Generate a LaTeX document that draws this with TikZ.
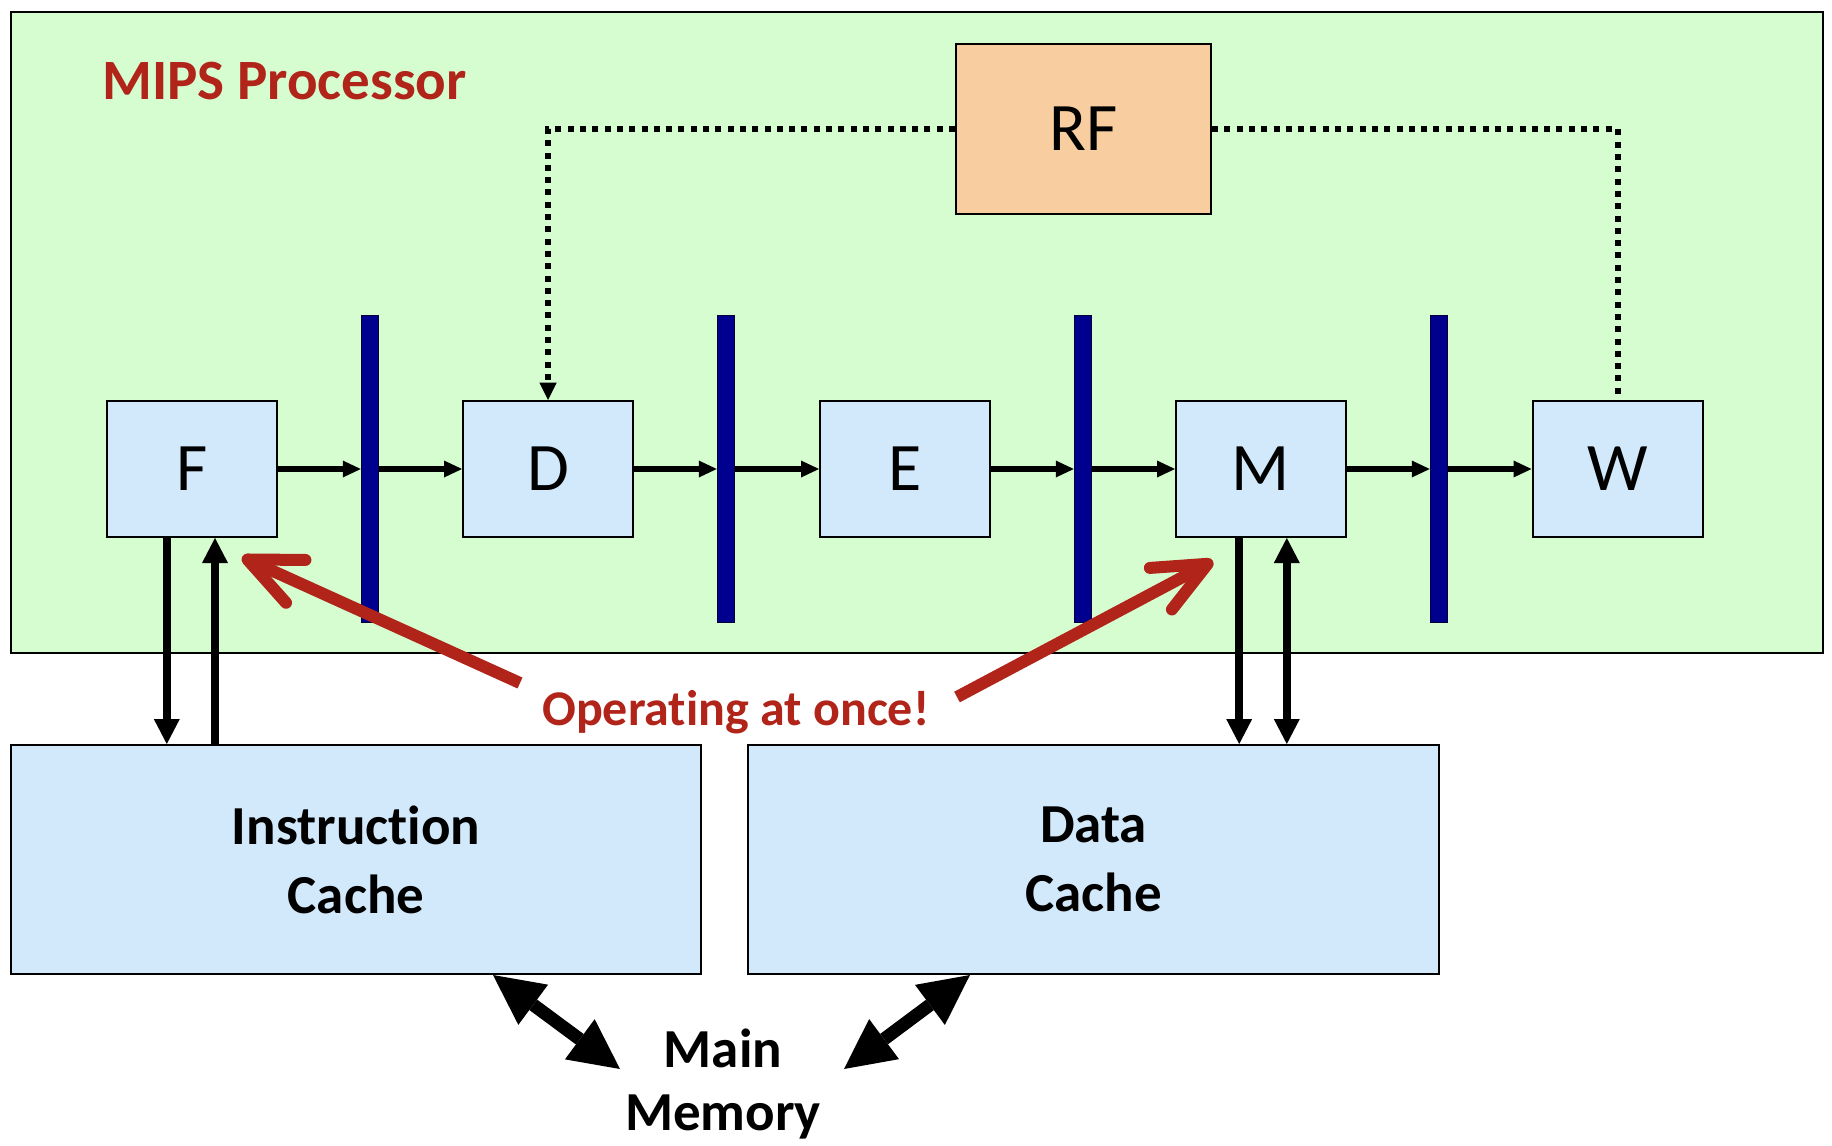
\documentclass[tikz,border=0pt]{standalone}
\usepackage{fontspec}
\setmainfont{Carlito}[Ligatures=NoCommon]
\usetikzlibrary{arrows.meta}
\definecolor{bggreen}{HTML}{D6FDD0}
\definecolor{boxblue}{HTML}{D2E9FB}
\definecolor{peach}{HTML}{F8CDA0}
\definecolor{darkred}{HTML}{B0241A}
\definecolor{navybar}{HTML}{00008E}
\begin{document}
\begin{tikzpicture}[x=1pt,y=-1pt,
  stagebox/.style={draw=black, line width=2pt, fill=boxblue, minimum width=170pt, minimum height=136pt, inner sep=0pt, font=\fontsize{68}{80}\selectfont},
  rfbox/.style={draw=black, line width=2pt, fill=peach, minimum width=255pt, minimum height=170pt, inner sep=0pt, font=\fontsize{68}{80}\selectfont},
  pipereg/.style={draw=black!60!navybar, line width=1pt, fill=navybar, minimum width=17.5pt, minimum height=307pt, inner sep=0pt},
  cachebox/.style={draw=black, line width=2pt, fill=boxblue, minimum height=229pt, inner sep=0pt, align=center, font=\bfseries\fontsize{55}{69}\selectfont},
  flow/.style={line width=5.3pt, -{Triangle[length=18pt,width=17pt,line width=0pt]}},
  bus/.style={line width=8.3pt},
  dotline/.style={line width=6pt, dash pattern=on 6pt off 6.3pt},
  redarrow/.style={draw=darkred, line width=12pt, -{Straight Barb[length=53pt,width=47pt,round]}},
  memarrow/.style={line width=13pt, {Triangle[length=50pt,width=50pt,line width=0pt]}-{Triangle[length=50pt,width=50pt,line width=0pt]}}
]
\useasboundingbox (0,0) rectangle (1832,1146);
\fill[white] (0,0) rectangle (1832,1146);
% processor region
\draw[fill=bggreen, line width=2pt] (11,12) rectangle (1823,652.5);
\node[anchor=base west, inner sep=0pt, text=darkred, font=\bfseries\fontsize{57}{68}\selectfont] (title) at (102,99) {MIPS Processor};
% register file
\node[rfbox] (RF) at (1083.5,129) {RF};
% stages
\node[stagebox] (F) at (192,469) {F};
\node[stagebox] (D) at (548,469) {D};
\node[stagebox] (E) at (905,469) {E};
\node[stagebox] (M) at (1261,469) {M};
\node[stagebox] (W) at (1617.5,469) {W};
% pipeline registers
\node[pipereg] (R1) at (370,469) {};
\node[pipereg] (R2) at (726,469) {};
\node[pipereg] (R3) at (1083,469) {};
\node[pipereg] (R4) at (1439,469) {};
% flow arrows
\draw[flow] (F.east) -- (R1.west);
\draw[flow] (R1.east) -- (D.west);
\draw[flow] (D.east) -- (R2.west);
\draw[flow] (R2.east) -- (E.west);
\draw[flow] (E.east) -- (R3.west);
\draw[flow] (R3.east) -- (M.west);
\draw[flow] (M.east) -- (R4.west);
\draw[flow] (R4.east) -- (W.west);
% RF dotted connections
\draw[dotline, -{Triangle[length=17.5pt,width=17.5pt,line width=0pt]}] (RF.west) -- (D.north |- RF.west) -- (D.north);
\draw[dotline] (RF.east) -- (W.north |- RF.east) -- (W.north);
% caches
\node[cachebox, minimum width=690pt] (IC) at (356,859.5) {Instruction\\Cache};
\node[cachebox, minimum width=691pt] (DC) at (1093.5,859.5) {Data\\Cache};
% F <-> instruction cache
\coordinate (f1) at ([xshift=-25.2pt]F.south);
\coordinate (f2) at ([xshift=23pt]F.south);
\draw[bus, -{Triangle[length=25pt,width=26pt,line width=0pt]}] (f1) -- (f1 |- IC.north);
\draw[bus, -{Triangle[length=25pt,width=26pt,line width=0pt]}] (f2 |- IC.north) -- (f2);
% M <-> data cache
\coordinate (m1) at ([xshift=-21.8pt]M.south);
\coordinate (m2) at ([xshift=25.8pt]M.south);
\draw[bus, -{Triangle[length=25pt,width=26pt,line width=0pt]}] (m1) -- (m1 |- DC.north);
\draw[bus, {Triangle[length=25pt,width=26pt,line width=0pt]}-{Triangle[length=25pt,width=26pt,line width=0pt]}] (m2) -- (m2 |- DC.north);
% operating at once
\node[anchor=base west, inner sep=0pt, text=darkred, font=\bfseries\fontsize{50}{60}\selectfont] (op) at (542,725) {Operating at once!};
\coordinate (r1tail) at (520,683);
\coordinate (r1tip) at (242,557);
\coordinate (r2tail) at (957,697);
\coordinate (r2tip) at (1213,561);
\draw[redarrow] (r1tail) -- (r1tip);
\draw[redarrow] (r2tail) -- (r2tip);
% main memory
\node[anchor=base, inner sep=0pt, align=center, font=\bfseries\fontsize{55}{63}\selectfont] (mm) at (723,1130) {Main\\Memory};
\coordinate (ic1) at ([xshift=137pt]IC.south);
\coordinate (dc1) at ([xshift=-123.5pt]DC.south);
\coordinate (mm1) at (620,1069);
\coordinate (mm2) at (844,1069);
\draw[memarrow] (ic1) -- (mm1);
\draw[memarrow] (dc1) -- (mm2);
\end{tikzpicture}
\end{document}
